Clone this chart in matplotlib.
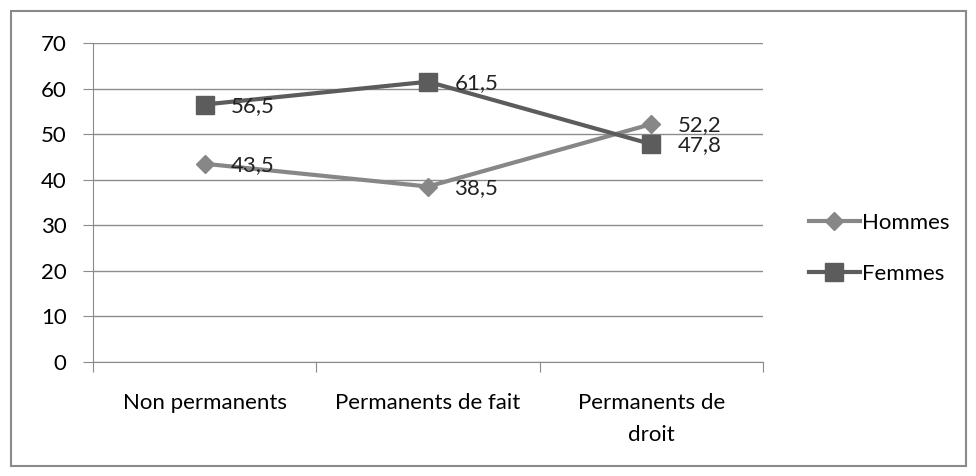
import matplotlib.pyplot as plt
from matplotlib.patches import Rectangle

# Répartition par sexe selon le statut
categories = ['Non permanents', 'Permanents de fait', 'Permanents de\ndroit']
hommes = [43.5, 38.5, 52.2]
femmes = [56.5, 61.5, 47.8]
yticks = [0, 10, 20, 30, 40, 50, 60, 70]

plt.rcParams['font.family'] = ['Lato', 'DejaVu Sans']
fs = 16

fig = plt.figure(figsize=(9.76, 4.76), dpi=100)
ax = fig.add_axes([0.0953, 0.2395, 0.6865, 0.6702])

# cadre autour du graphique
fig.patches.append(Rectangle((11 / 976, 10 / 476), 955 / 976, 455 / 476,
                             transform=fig.transFigure, fill=False,
                             edgecolor='#8a8a8a', linewidth=1.5))

x = [0.5, 1.5, 2.5]
c_h = '#878787'
c_f = '#5c5c5c'
ax.plot(x, hommes, color=c_h, lw=3, marker='D', ms=9, label='Hommes', zorder=3)
ax.plot(x, femmes, color=c_f, lw=3, marker='s', ms=13, label='Femmes', zorder=3)

for xi, v in zip(x, hommes):
    ax.annotate(f'{v:.1f}'.replace('.', ','), (xi, v), xytext=(19, -1),
                textcoords='offset points', ha='left', va='center',
                fontsize=fs, color='#222222', zorder=4)
for xi, v in zip(x, femmes):
    ax.annotate(f'{v:.1f}'.replace('.', ','), (xi, v), xytext=(19, -1),
                textcoords='offset points', ha='left', va='center',
                fontsize=fs, color='#222222', zorder=4)

ax.set_xlim(0, 3)
ax.set_ylim(0, 70)
ax.set_yticks(yticks)
ax.set_yticklabels([str(t) for t in yticks], fontsize=fs)
ax.set_xticks([0, 1, 2, 3])
ax.set_xticklabels([])
ax.set_xticks(x, minor=True)
ax.set_xticklabels(categories, minor=True, fontsize=fs, linespacing=1.75)
ax.tick_params(axis='x', which='minor', length=0, pad=22)
ax.tick_params(axis='x', which='major', length=7, color='#8a8a8a', direction='out')
ax.tick_params(axis='y', length=7, color='#8a8a8a', pad=12)

ax.grid(axis='y', color='#8c8c8c', lw=1)
ax.set_axisbelow(True)
for s in ['top', 'right']:
    ax.spines[s].set_visible(False)
for s in ['left', 'bottom']:
    ax.spines[s].set_color('#8a8a8a')

fig.legend(loc='center left', bbox_to_anchor=(0.808, 0.478), frameon=False,
           fontsize=fs, handlelength=2.3, handletextpad=0.12, labelspacing=1.4)

fig.savefig('out.png', dpi=100)
